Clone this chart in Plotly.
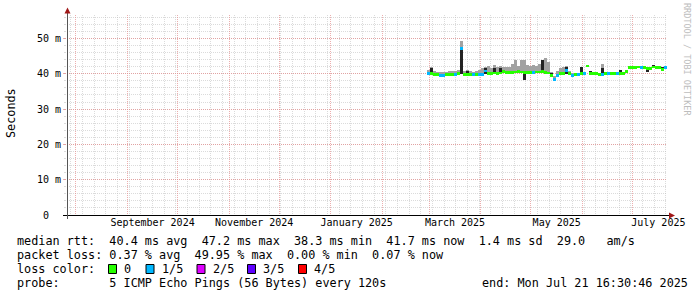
import pandas as pd
import plotly.graph_objects as go

# ---------------- data ----------------
END_TIME = pd.Timestamp("2025-07-21 16:30:46")
START_TIME = END_TIME - pd.Timedelta(days=360)
DATA_START = pd.Timestamp("2025-02-27 16:30:46")
BIN = pd.Timedelta(hours=43.2)

median_ms = [40.0, 40.0, 39.8, 39.7, 39.6, 39.6, 39.8, 39.8, 39.7, 39.8,
             40.0, 47.2, 39.7, 39.8, 39.7, 39.7, 39.8, 39.7, 39.9, 40.8,
             40.1, 40.1, 40.2, 40.1, 40.2, 40.6, 40.4, 40.3, 40.3, 40.5,
             40.6, 40.5, 40.4, 40.3, 40.4, 40.4, 40.5, 40.5, 40.6, 40.3,
             40.2, 39.4, 38.3, 39.4, 40.0, 40.0, 40.9, 40.0, 39.5, 39.7,
             39.8, 40.1, 40.0, 42.2, 40.1, 40.0, 40.0, 39.8, 39.7, 40.0,
             40.0, 40.0, 40.0, 40.0, 40.0, 40.0, 40.6, 41.8, 41.8, 41.7,
             41.9, 41.7, 41.8, 41.4, 41.5, 41.9, 41.8, 41.7, 41.2, 41.7]

loss_level = [1, 0, 0, 0, 1, 1, 0, 0, 0, 1,
              0, 1, 0, 0, 0, 1, 0, 1, 1, 1,
              0, 0, 0, 0, 0, 0, 0, 0, 0, 0,
              0, 0, 0, 0, 0, 1, 0, 0, 0, 0,
              0, 0, 1, 1, 0, 0, 1, 0, 1, 0,
              1, 0, 1, 0, 0, 0, 0, 0, 1, 0,
              1, 0, 0, 1, 0, 0, 0, 0, 0, 0,
              0, 1, 0, 0, 0, 0, 0, 0, 0, 1]

smoke_max_ms = [41.2, 41.8, 40.8, 40.6, 40.4, 40.5, 40.6, 40.8, 40.9, 40.9,
                41.2, 49.3, 40.8, 41.0, 40.8, 40.6, 40.9, 41.2, 41.7, 42.0,
                42.1, 41.7, 42.4, 41.9, 42.3, 42.0, 41.8, 42.0, 42.8, 43.8,
                42.2, 43.8, 44.0, 42.5, 42.3, 42.6, 42.3, 42.9, 43.8, 44.5,
                43.2, 40.5, 39.5, 40.8, 41.5, 41.8, 42.1, 40.9, 40.3, 40.2,
                40.3, 42.0, 40.3, 42.4, 40.5, 40.2, 40.2, 40.0, 42.8, 40.2,
                40.2, 40.2, 40.2, 40.2, 41.2, 40.2, 40.8, 42.0, 42.0, 41.9,
                42.1, 41.9, 42.0, 41.7, 41.7, 42.4, 42.0, 42.0, 41.8, 41.9]

dark_bins = [1, 11, 13, 19, 22, 24, 32, 38, 41, 46, 51, 54, 58, 64, 73, 75, 78]
dark_lo_ms = [40.0, 40.0, 39.8, 40.0, 40.0, 40.2, 38.3, 40.4, 39.0, 40.0,
              40.0, 40.0, 39.3, 40.0, 40.6, 41.8, 41.0]
dark_hi_ms = [41.7, 47.5, 40.9, 41.7, 41.7, 41.7, 40.4, 43.8, 40.2, 42.0,
              41.9, 40.9, 41.7, 41.2, 41.7, 42.4, 41.8]

loss_labels = ["0", "1/5", "2/5", "3/5", "4/5"]
loss_colors = ["#26ff00", "#00b8ff", "#dd00ff", "#5e00ff", "#ff0000"]

y_tick_vals = [0, 10, 20, 30, 40, 50]
y_tick_text = ["0  ", "10 m", "20 m", "30 m", "40 m", "50 m"]
Y_MAX = 56.64

month_label_dates = ["2024-09-16", "2024-11-16", "2025-01-16 12:00",
                     "2025-03-16 12:00", "2025-05-16 12:00", "2025-07-16 12:00"]
month_label_text = ["September 2024", "November 2024", "January 2025",
                    "March 2025", "May 2025", "July 2025"]

rtt_stats = ["40.4", "47.2", "38.3", "41.7", "1.4", "29.0"]
loss_stats = ["0.37", "49.95", "0.00", "0.07"]
probe_text = "5 ICMP Echo Pings (56 Bytes) every 120s"
end_text = "end: Mon Jul 21 16:30:46 2025"

# ---------------- geometry ----------------
W, H = 697, 297
L, R, T, B = 67, 30, 15, 82
PW, PH = W - L - R, H - T - B


def px(x):
    return (x - L) / PW


def py(y):
    return (H - B - y) / PH


def nb(s):
    return s.replace(" ", "\u00a0")


FONT = "DejaVu Sans Mono"
n = len(median_ms)
centers = [DATA_START + BIN * (k + 0.5) for k in range(n)]
bw = BIN.total_seconds() * 1000

fig = go.Figure()
# light smoke
fig.add_trace(go.Bar(x=centers, base=median_ms,
                     y=[h - m for h, m in zip(smoke_max_ms, median_ms)],
                     width=bw, marker=dict(color="#a2a2a2", line=dict(width=0))))
# dark smoke
fig.add_trace(go.Bar(x=[centers[k] for k in dark_bins], base=dark_lo_ms,
                     y=[h - l for h, l in zip(dark_hi_ms, dark_lo_ms)],
                     width=bw * 0.8, marker=dict(color="#232323", line=dict(width=0))))
# median band coloured by loss
fig.add_trace(go.Bar(x=centers, base=[m - 0.4 for m in median_ms], y=[0.8] * n,
                     width=bw, marker=dict(color=[loss_colors[l] for l in loss_level],
                                           line=dict(width=0))))

MAJ = "rgba(228,140,140,0.7)"
MIN = "rgba(190,190,190,0.55)"
month_starts = pd.date_range("2024-08-01", "2025-07-01", freq="MS")

fig.update_layout(
    width=W, height=H, margin=dict(l=L, r=R, t=T, b=B),
    paper_bgcolor="white", plot_bgcolor="white",
    barmode="overlay", bargap=0, showlegend=False, hovermode=False,
    font=dict(family=FONT, color="#000"),
    xaxis=dict(type="date", range=[START_TIME, END_TIME], tickmode="array",
               tickvals=list(month_starts), ticktext=[""] * len(month_starts),
               showgrid=True, gridcolor=MAJ, griddash="1px,1px", gridwidth=1,
               ticks="", zeroline=False, showline=False, automargin=False,
               minor=dict(dtick=7 * 86400000, tick0="2024-08-05", showgrid=True,
                          gridcolor=MIN, griddash="1px,1px", gridwidth=1)),
    xaxis2=dict(type="date", range=[START_TIME, END_TIME], overlaying="x", anchor="y",
                side="bottom", tickmode="array", tickvals=month_label_dates,
                ticktext=month_label_text, showgrid=False, ticks="", zeroline=False,
                showline=False, automargin=False,
                tickfont=dict(family=FONT, size=10, color="#000")),
    yaxis=dict(range=[0, Y_MAX], tickmode="array", tickvals=y_tick_vals,
               ticktext=[nb(t) for t in y_tick_text], showgrid=True, gridcolor=MAJ,
               griddash="1px,1px", zeroline=False, showline=False, automargin=False,
               ticks="outside", ticklen=3, tickcolor=MAJ,
               tickfont=dict(family=FONT, size=10, color="#000"),
               minor=dict(dtick=2, showgrid=True, gridcolor=MIN, griddash="1px,1px",
                          ticks="outside", ticklen=2, tickcolor=MIN)),
)
# dummy so xaxis2 is built
fig.add_trace(go.Scatter(x=[], y=[], xaxis="x2", yaxis="y"))

shapes = []
# axis lines
shapes.append(dict(type="line", xref="paper", yref="paper", x0=px(63), x1=px(670),
                   y0=py(215.5), y1=py(215.5), line=dict(color="#000", width=1)))
shapes.append(dict(type="line", xref="paper", yref="paper", x0=px(67.5), x1=px(67.5),
                   y0=py(219), y1=py(12), line=dict(color="#555", width=1)))
# arrows
shapes.append(dict(type="path", xref="paper", yref="paper",
                   path=f"M {px(669)} {py(212.5)} L {px(675)} {py(215.5)} L {px(669)} {py(218.5)} Z",
                   fillcolor="#a01818", line=dict(width=0)))
shapes.append(dict(type="path", xref="paper", yref="paper",
                   path=f"M {px(64.5)} {py(13.5)} L {px(67.5)} {py(7.5)} L {px(70.5)} {py(13.5)} Z",
                   fillcolor="#a01818", line=dict(width=0)))

annotations = []


def txt(x, y, s, size=11.8, anchor="left", color="#000", angle=0):
    annotations.append(dict(xref="paper", yref="paper", x=px(x), y=py(y), text=nb(s),
                            showarrow=False, xanchor=anchor, yanchor="middle",
                            textangle=angle, borderpad=0,
                            font=dict(family=FONT, size=size, color=color)))


row1 = (f"median rtt:  {rtt_stats[0]} ms avg  {rtt_stats[1]} ms max  {rtt_stats[2]} ms min  "
        f"{rtt_stats[3]} ms now  {rtt_stats[4]} ms sd  {rtt_stats[5]}   am/s")
row2 = (f"packet loss: {loss_stats[0]} % avg  {loss_stats[1]} % max  "
        f"{loss_stats[2]} % min  {loss_stats[3]} % now")
txt(16, 241, row1)
txt(16, 255, row2)
txt(16, 269, "loss color:")
box_x = [108.5, 146, 197, 247.5, 298.5]
for bx, lab, col in zip(box_x, loss_labels, loss_colors):
    shapes.append(dict(type="rect", xref="paper", yref="paper", x0=px(bx), x1=px(bx + 8),
                       y0=py(264.5), y1=py(273.5), fillcolor=col,
                       line=dict(color="#000", width=1)))
    txt(bx + 14.5, 269, lab)
txt(16, 283, "probe:       " + probe_text)
txt(689, 283, end_text, anchor="right")
txt(11, 113, "Seconds", angle=-90, anchor="center")
txt(687, 59, "RRDTOOL / TOBI OETIKER", size=8.5, color="#bdbdbd", angle=90, anchor="center")

fig.update_layout(shapes=shapes, annotations=annotations)
fig.write_html("out.html")
